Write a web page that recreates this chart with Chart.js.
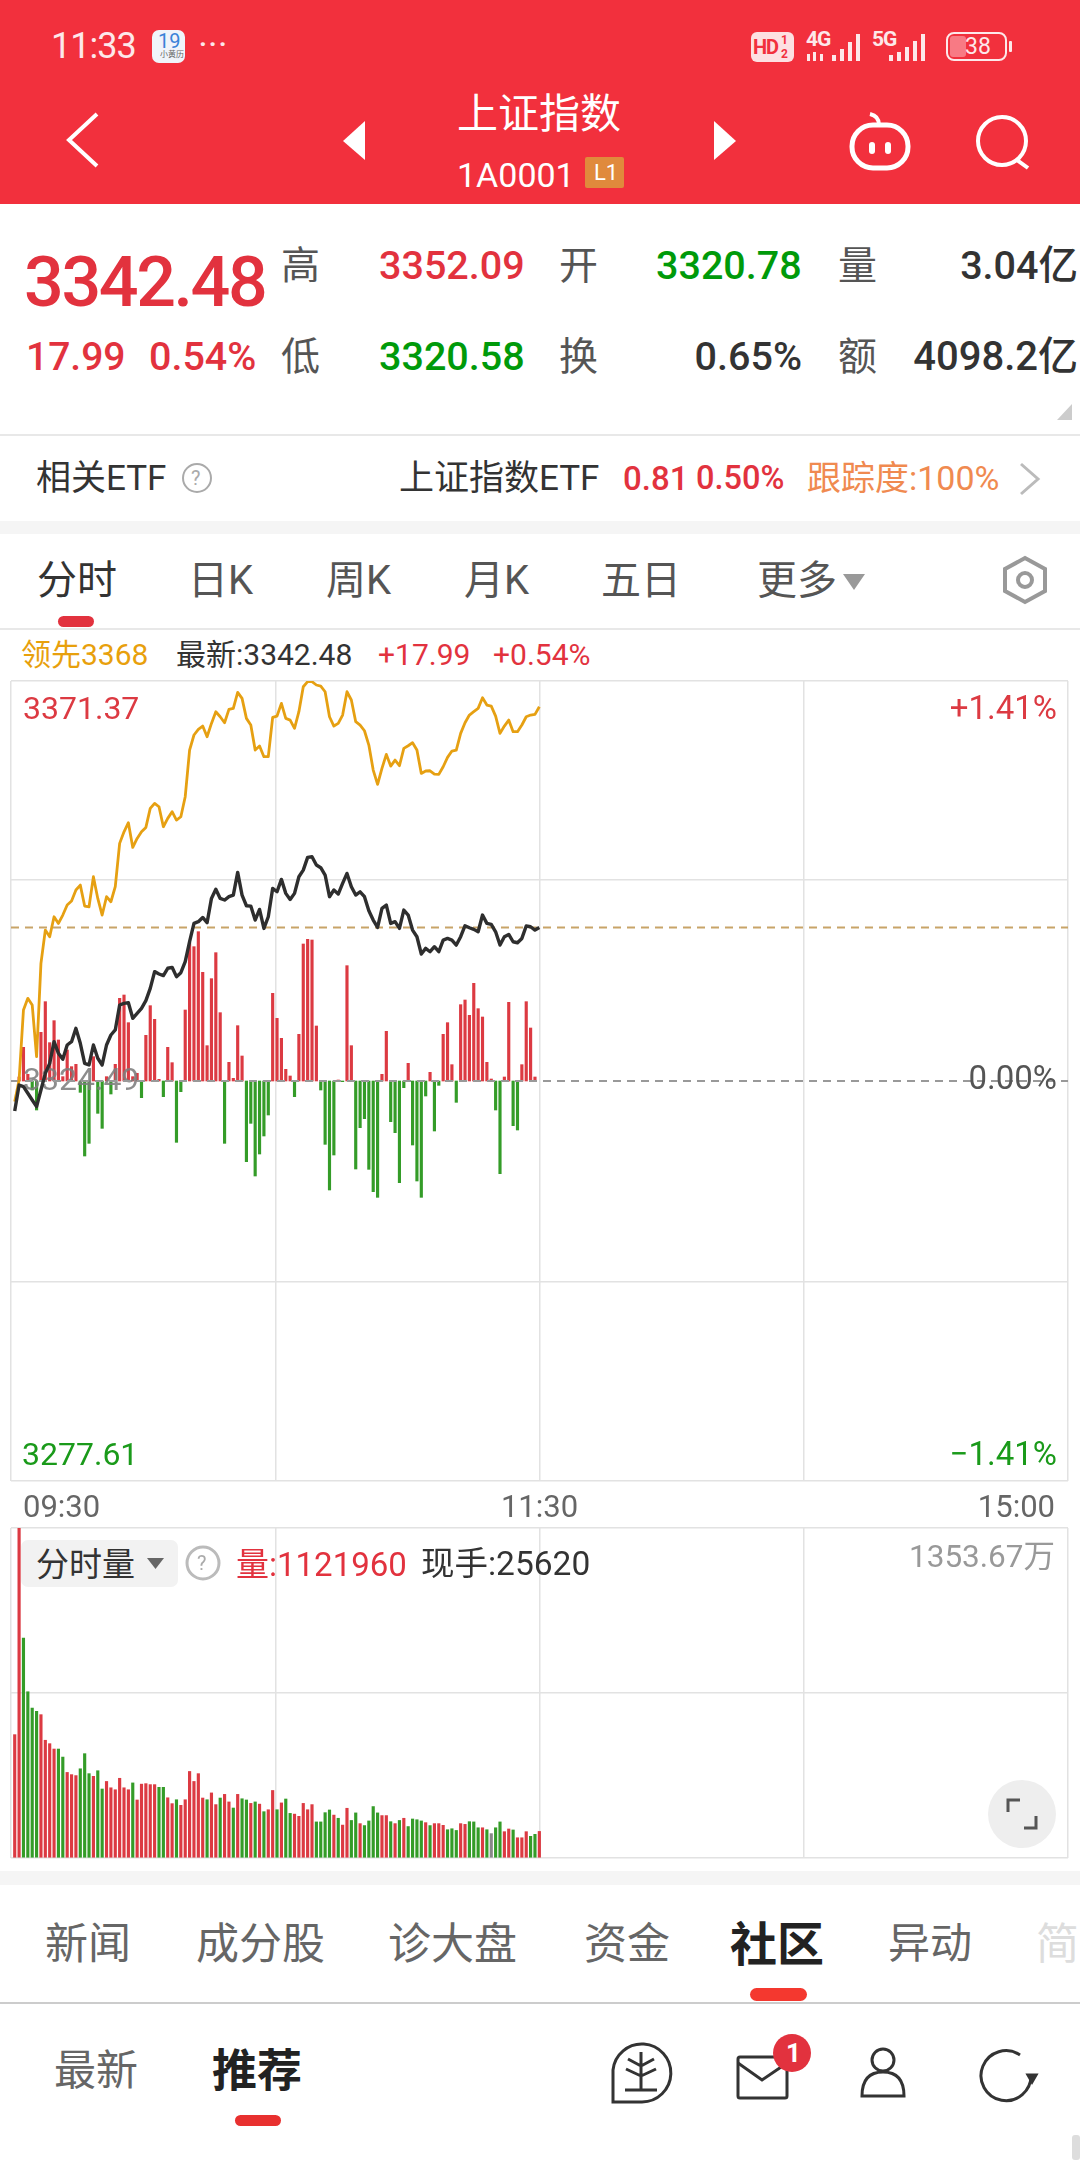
<!DOCTYPE html>
<html lang="zh-CN">
<head>
<meta charset="utf-8">
<title>上证指数</title>
<script src="https://cdn.jsdelivr.net/npm/chart.js@4/dist/chart.umd.min.js"></script>
<style>
  html, body { margin: 0; padding: 0; background: #fff; }
  #page { position: relative; width: 1080px; height: 2160px; overflow: hidden; background: #fff;
    font-family: Roboto, "Noto Sans CJK SC", sans-serif; }
  #page canvas { position: absolute; left: 0; }
  .t { position: absolute; white-space: nowrap; transform: translateY(-50%); line-height: 1; }
  .r { transform: translate(-100%, -50%); }
  .b { position: absolute; }
  svg { position: absolute; overflow: visible; }
  .red { color: #e2323e; } .grn { color: #009a0a; } .dk { color: #333; } .lab { color: #555; }
</style>
</head>
<body>
<div id="page">
  <div class="b" style="left:0;top:0;width:1080px;height:204px;background:#f2303d"></div>
  <div class="t" style="left:51px;top:46px;font-size:36px;letter-spacing:-1px;color:#fde8ea">11:33</div>
  <div class="b" style="left:152px;top:30px;width:33px;height:33px;background:#f0f4fa;border-radius:7px"></div>
  <div class="t" style="left:158px;top:41px;font-size:20px;color:#3b82d8">19</div>
  <div class="t" style="left:160px;top:55px;font-size:8px;color:#666">小黄历</div>
  <div class="t" style="left:199px;top:44px;font-size:26px;font-weight:700;color:#fde8ea;letter-spacing:2px">···</div>
  <div class="b" style="left:751px;top:32px;width:43px;height:30px;background:#fde0e2;border-radius:6px"></div>
  <div class="t" style="left:753px;top:47px;font-size:20px;font-weight:700;letter-spacing:-1px;color:#f2303d">HD</div>
  <div class="t" style="left:781px;top:40px;font-size:12px;font-weight:700;color:#f2303d">1</div>
  <div class="t" style="left:781px;top:54px;font-size:12px;font-weight:700;color:#f2303d">2</div>
  <div class="t" style="left:806px;top:39px;font-size:21px;font-weight:700;letter-spacing:-1px;color:#fde8ea">4G</div>
  <div class="t" style="left:872px;top:39px;font-size:21px;font-weight:700;letter-spacing:-1px;color:#fde8ea">5G</div>
  <svg style="left:0;top:0" width="1080" height="204" fill="#fde8ea">
    <rect x="807" y="54" width="3" height="7"/><rect x="813" y="52" width="3" height="9"/><rect x="820" y="54" width="3" height="7"/>
    <rect x="832" y="55" width="4" height="6"/><rect x="840" y="49" width="4" height="12"/><rect x="848" y="42" width="4" height="19"/><rect x="856" y="34" width="4" height="27"/>
    <rect x="889" y="55" width="4" height="6"/><rect x="897" y="52" width="4" height="9"/><rect x="905" y="47" width="4" height="14"/><rect x="913" y="41" width="4" height="20"/><rect x="921" y="34" width="4" height="27"/>
    <rect x="947" y="33" width="59" height="27" rx="7" fill="none" stroke="#fde8ea" stroke-width="2"/>
    <rect x="950" y="36" width="16" height="21" rx="3" fill="#f87a84"/>
    <rect x="1009" y="41" width="3" height="11" rx="1"/>
    <polyline points="97,114 69,140 97,166" fill="none" stroke="#fff" stroke-width="4"/>
    <polygon points="365,121 343,141 365,160" fill="#fff"/>
    <polygon points="714,121 736,141 714,160" fill="#fff"/>
    <rect x="852" y="125" width="56" height="43" rx="21" fill="none" stroke="#fff" stroke-width="5"/>
    <path d="M870 114 q9 2 9 11" fill="none" stroke="#fff" stroke-width="4"/>
    <rect x="869" y="142" width="6" height="12" rx="3" fill="#fff"/><rect x="885" y="142" width="6" height="12" rx="3" fill="#fff"/>
    <circle cx="1002" cy="141" r="24" fill="none" stroke="#fff" stroke-width="4"/>
    <line x1="1017" y1="160" x2="1028" y2="168" stroke="#fff" stroke-width="4"/>
  </svg>
  <div class="t" style="left:965px;top:46px;font-size:23px;color:#fde8ea">38</div>
  <div class="t" style="left:457px;top:114px;font-size:41px;color:#fff">上证指数</div>
  <div class="t" style="left:457px;top:175px;font-size:34px;color:#fff">1A0001</div>
  <div class="b" style="left:585px;top:157px;width:39px;height:31px;background:#e08a3c;border-radius:2px"></div>
  <div class="t" style="left:594px;top:173px;font-size:22px;color:#fff">L1</div>

  <div class="t red" style="left:24px;top:282px;font-size:70px;font-weight:500;letter-spacing:-2.4px">3342.48</div>
  <div class="t lab" style="left:281px;top:266px;font-size:39px">高</div>
  <div class="t red" style="left:379px;top:266px;font-size:39.5px;font-weight:500">3352.09</div>
  <div class="t lab" style="left:559px;top:266px;font-size:39px">开</div>
  <div class="t grn" style="left:656px;top:266px;font-size:39.5px;font-weight:500">3320.78</div>
  <div class="t lab" style="left:838px;top:266px;font-size:39px">量</div>
  <div class="t r dk" style="left:1078px;top:266px;font-size:39.5px;font-weight:500">3.04亿</div>
  <div class="t red" style="left:26px;top:357px;font-size:39px;font-weight:500">17.99</div>
  <div class="t red" style="left:149px;top:357px;font-size:39.5px;font-weight:500">0.54%</div>
  <div class="t lab" style="left:281px;top:357px;font-size:39px">低</div>
  <div class="t grn" style="left:379px;top:357px;font-size:39.5px;font-weight:500">3320.58</div>
  <div class="t lab" style="left:559px;top:357px;font-size:39px">换</div>
  <div class="t r dk" style="left:802px;top:357px;font-size:39.5px;font-weight:500">0.65%</div>
  <div class="t lab" style="left:838px;top:357px;font-size:39px">额</div>
  <div class="t r dk" style="left:1078px;top:357px;font-size:40px;font-weight:500">4098.2亿</div>
  <svg style="left:0;top:0" width="1080" height="640">
    <polygon points="1072,404 1072,420 1057,420" fill="#ccc"/>
    <circle cx="197" cy="478" r="14" fill="none" stroke="#aaa" stroke-width="2"/>
    <polyline points="1021,464 1038,479 1021,494" fill="none" stroke="#bbb" stroke-width="3"/>
    <polygon points="843,574 865,574 854,590" fill="#999"/>
    <polygon points="1025,558 1045,569 1045,591 1025,602 1005,591 1005,569" fill="none" stroke="#999" stroke-width="4"/>
    <circle cx="1025" cy="580" r="7" fill="none" stroke="#999" stroke-width="4"/>
  </svg>
  <div class="b" style="left:0;top:434px;width:1080px;height:2px;background:#e8e8e8"></div>
  <div class="t dk" style="left:36px;top:478px;font-size:35px">相关ETF</div>
  <div class="t" style="left:191px;top:478px;font-size:20px;color:#aaa">?</div>
  <div class="t dk" style="left:399px;top:478px;font-size:35px">上证指数ETF</div>
  <div class="t red" style="left:623px;top:478px;font-size:33px;font-weight:500">0.81</div>
  <div class="t red" style="left:696px;top:478px;font-size:32.5px;font-weight:500">0.50%</div>
  <div class="t" style="left:807px;top:478px;font-size:34px;color:#f08a50">跟踪度:100%</div>
  <div class="b" style="left:0;top:521px;width:1080px;height:13px;background:#f5f5f5"></div>
  <div class="t dk" style="left:37px;top:581px;font-size:40px">分时</div>
  <div class="t lab" style="left:188px;top:581px;font-size:40px">日K</div>
  <div class="t lab" style="left:326px;top:581px;font-size:40px">周K</div>
  <div class="t lab" style="left:464px;top:581px;font-size:40px">月K</div>
  <div class="t lab" style="left:601px;top:581px;font-size:40px">五日</div>
  <div class="t lab" style="left:757px;top:581px;font-size:40px">更多</div>
  <div class="b" style="left:58px;top:616px;width:36px;height:11px;border-radius:6px;background:#e2323e"></div>
  <div class="b" style="left:0;top:628px;width:1080px;height:2px;background:#e8e8e8"></div>
  <div class="t" style="left:21px;top:655px;font-size:30px;color:#e8a00c">领先3368</div>
  <div class="t dk" style="left:176px;top:655px;font-size:30px">最新:3342.48</div>
  <div class="t red" style="left:378px;top:655px;font-size:30px">+17.99</div>
  <div class="t red" style="left:493px;top:655px;font-size:30px">+0.54%</div>

  <canvas id="priceChart" width="1080" height="880" style="top:640px;width:1080px;height:880px"></canvas>
  <canvas id="volumeChart" width="1080" height="345" style="top:1520px;width:1080px;height:345px"></canvas>

  <div class="b" style="left:21px;top:1540px;width:157px;height:47px;border-radius:7px;background:#f2f2f2"></div>
  <div class="t dk" style="left:36px;top:1564px;font-size:33px">分时量</div>
  <svg style="left:0;top:1520px" width="1080" height="345">
    <polygon points="147,38 164,38 155.5,49" fill="#666"/>
    <circle cx="203" cy="43" r="16" fill="none" stroke="#bbb" stroke-width="3"/>
    <circle cx="1022" cy="294" r="34" fill="#eee"/>
    <polyline points="1008,292 1008,280 1020,280" fill="none" stroke="#555" stroke-width="3"/>
    <polyline points="1024,308 1036,308 1036,296" fill="none" stroke="#555" stroke-width="3"/>
  </svg>
  <div class="t" style="left:197px;top:1563px;font-size:20px;color:#aaa">?</div>
  <div class="t red" style="left:236px;top:1564px;font-size:33px">量:1121960</div>
  <div class="t dk" style="left:421px;top:1564px;font-size:33.5px">现手:25620</div>
  <div class="t r" style="left:1055px;top:1557px;font-size:31.5px;color:#999">1353.67万</div>

  <div class="b" style="left:0;top:1871px;width:1080px;height:14px;background:#f5f5f5"></div>
  <div class="t" style="left:45px;top:1944px;font-size:43px;color:#666">新闻</div>
  <div class="t" style="left:196px;top:1944px;font-size:43px;color:#666">成分股</div>
  <div class="t" style="left:388px;top:1944px;font-size:43px;color:#666">诊大盘</div>
  <div class="t" style="left:584px;top:1944px;font-size:43px;color:#666">资金</div>
  <div class="t" style="left:730px;top:1944px;font-size:47px;font-weight:700;color:#222">社区</div>
  <div class="t" style="left:888px;top:1944px;font-size:42px;color:#666">异动</div>
  <div class="t" style="left:1036px;top:1944px;font-size:43px;color:#ddd">简</div>
  <div class="b" style="left:750px;top:1988px;width:57px;height:13px;border-radius:7px;background:#f4382f"></div>
  <div class="b" style="left:0;top:2002px;width:1080px;height:2px;background:#ccc"></div>
  <div class="t" style="left:54px;top:2071px;font-size:42px;color:#666">最新</div>
  <div class="t" style="left:212px;top:2071px;font-size:45px;font-weight:700;color:#222">推荐</div>
  <div class="b" style="left:235px;top:2115px;width:46px;height:11px;border-radius:6px;background:#e8302f"></div>
  <svg style="left:0;top:2030px" width="1080" height="130" fill="none" stroke="#333" stroke-width="3">
    <path d="M613 72 V40 a29 29 0 1 1 29 32 Z"/>
    <path d="M641 22 V60 M625 60 H657 M641 36 L628 29 M641 36 L654 29 M641 46 L626 39 M641 46 L656 39"/>
    <rect x="738" y="27" width="49" height="41" rx="2"/>
    <polyline points="738,33 762,50 787,33"/>
    <circle cx="883" cy="30" r="11"/>
    <path d="M862 66 q0 -24 21 -24 q21 0 21 24 Z"/>
    <path d="M1031 45 a25 25 0 1 1 -11 -20"/>
    <polygon points="1028,45 1036,45 1032,52" fill="#333"/>
    <rect x="1072" y="105" width="8" height="25" rx="3" fill="#ddd" stroke="none"/>
    <circle cx="792" cy="23" r="19" fill="#e2323e" stroke="none"/>
  </svg>
  <div class="t" style="left:786px;top:2053px;font-size:26px;font-weight:700;color:#fff">1</div>
</div>

<script>
const prevClose = 3324.49;
const lastPrice = 3342.48;
const axisTop = 3371.37;
const axisBottom = 3277.61;
const axisLines = [3277.61, 3300.93, 3348.05, 3371.37];
const timeLabels = ['09:30', '11:30', '15:00'];
const volumeMax = 1353.67;

// 上证指数 分时, one point per minute from 09:30
const indexLine = [
  3320.98, 3324.02, 3323.83, 3323.05, 3322.26, 3321.48, 3323.44, 3325.39, 3326.56, 3329.10,
  3327.73, 3327.03, 3328.71, 3329.10, 3330.66, 3328.91, 3326.56, 3326.37, 3328.71, 3327.15,
  3326.37, 3328.71, 3329.88, 3330.47, 3333.40, 3333.59, 3333.67, 3331.84, 3332.42, 3333.01,
  3333.91, 3335.35, 3337.31, 3337.03, 3336.84, 3337.70, 3337.81, 3336.72, 3337.19, 3338.48,
  3340.82, 3342.96, 3343.16, 3343.66, 3343.04, 3345.89, 3346.95, 3345.89, 3345.70, 3346.09,
  3346.28, 3348.94, 3346.28, 3345.03, 3344.99, 3343.35, 3344.60, 3342.37, 3343.74, 3347.06,
  3346.67, 3348.12, 3346.48, 3345.77, 3346.48, 3348.43, 3349.21, 3350.70, 3350.77, 3349.80,
  3349.49, 3348.63, 3346.09, 3346.87, 3346.40, 3347.65, 3348.82, 3347.26, 3346.28, 3346.67,
  3346.09, 3344.45, 3343.35, 3342.49, 3344.72, 3345.11, 3342.96, 3343.16, 3342.37, 3344.52,
  3343.94, 3342.18, 3341.40, 3339.37, 3340.03, 3339.64, 3340.23, 3339.64, 3341.01, 3341.20,
  3341.01, 3340.42, 3341.40, 3342.69, 3342.45, 3342.26, 3341.98, 3343.94, 3342.96, 3342.84,
  3341.98, 3340.42, 3341.40, 3341.67, 3340.81, 3340.69, 3341.20, 3342.65, 3342.57, 3342.18,
  3342.48
];

// 领先 line
const leadLine = [
  3322.07, 3324.61, 3332.81, 3334.18, 3333.40, 3327.34, 3338.28, 3342.18, 3341.40, 3343.74,
  3342.96, 3343.94, 3345.11, 3345.58, 3346.87, 3347.45, 3344.99, 3344.91, 3348.43, 3345.89,
  3343.94, 3346.09, 3345.50, 3347.26, 3352.34, 3353.70, 3354.76, 3351.87, 3352.92, 3353.70,
  3354.21, 3356.44, 3357.03, 3356.63, 3354.29, 3355.27, 3356.05, 3355.07, 3355.46, 3357.81,
  3363.28, 3365.04, 3365.70, 3366.09, 3364.84, 3366.40, 3367.77, 3367.18, 3366.48, 3368.04,
  3368.16, 3370.04, 3369.33, 3366.99, 3366.21, 3363.28, 3363.75, 3362.50, 3362.50, 3367.11,
  3367.26, 3368.75, 3366.99, 3366.79, 3365.82, 3367.77, 3370.70, 3371.29, 3371.29, 3370.90,
  3370.78, 3370.11, 3367.18, 3366.09, 3366.40, 3367.38, 3370.11, 3369.14, 3366.60, 3366.21,
  3365.54, 3363.86, 3360.93, 3359.25, 3361.13, 3362.77, 3361.40, 3362.10, 3361.44, 3363.47,
  3363.78, 3364.14, 3363.28, 3360.54, 3360.82, 3360.85, 3360.46, 3360.42, 3361.32, 3362.42,
  3363.16, 3363.28, 3365.23, 3366.48, 3367.38, 3367.77, 3368.16, 3369.41, 3368.55, 3368.43,
  3367.26, 3365.23, 3366.09, 3366.79, 3365.43, 3365.43, 3366.21, 3367.18, 3367.38, 3367.46,
  3368.36
];

const flowBars = [
  0, 12, 101, 20, -27, -87, 146, 238, 115, 181,
  123, 13, 93, 43, 50, -34, -225, -187, 73, -97,
  -142, 13, -39, 50, 248, 258, 175, 13, 23, -50,
  137, 226, 185, 5, -47, 101, 55, -184, -32, 213,
  415, 403, 448, 326, 106, 307, 385, 205, -187, 56,
  8, 166, 75, -242, -127, -285, -219, -165, -102, 263,
  188, 128, 35, 15, -47, 140, 411, 425, 423, 165,
  -27, -190, -327, -222, 3, -2, 346, 106, -264, -140,
  -113, -265, -332, -349, 20, 149, -122, -155, -305, -20,
  53, -192, -300, -349, -45, 26, -150, -13, 140, 175,
  49, -64, 229, 243, 197, 293, 217, 192, 56, 6,
  -87, -278, 12, 236, -134, -147, 49, 238, 159, 12
];
const flowRange = 1200;

// 分时量, in 万
const volumeBars = [
  506, 1353.67, 902, 682, 615, 602, 588, 483, 469, 447,
  447, 414, 351, 342, 338, 366, 428, 346, 335, 358,
  283, 314, 288, 280, 327, 288, 280, 308, 238, 303,
  305, 301, 301, 290, 290, 247, 223, 239, 216, 239,
  355, 314, 346, 246, 239, 267, 219, 246, 261, 230,
  205, 261, 243, 238, 224, 230, 221, 190, 198, 277,
  198, 226, 242, 183, 180, 171, 224, 198, 219, 148,
  148, 186, 197, 176, 163, 135, 204, 154, 185, 141,
  133, 152, 211, 185, 174, 174, 149, 141, 154, 163,
  129, 160, 157, 152, 145, 133, 141, 141, 134, 116,
  120, 113, 141, 138, 149, 148, 124, 124, 116, 100,
  124, 148, 108, 119, 115, 83, 83, 108, 89, 97,
  109
];
const volumeDirs = [
  'r','r','g','g','g','g','r','r','r','r',
  'g','g','r','r','r','g','g','g','r','g',
  'g','r','r','r','r','r','r','g','r','r',
  'r','r','r','g','g','r','r','g','r','r',
  'r','r','r','r','g','r','r','g','r','r',
  'g','r','g','g','r','g','r','g','r','r',
  'g','r','g','g','r','r','r','r','r','g',
  'g','g','g','r','g','r','r','g','g','r',
  'g','g','g','g','r','r','g','r','g','r',
  'g','g','g','g','r','g','r','r','r','g',
  'g','g','r','r','g','g','g','r','g','n',
  'g','g','r','r','g','r','r','r','g','g',
  'r'
];

const RED = '#dc3a42';
const GREEN = '#349c28';
const GRID = '#e2e2e2';
const FONT = 'Roboto, "Noto Sans CJK SC", sans-serif';
const xRange = { min: -0.85, max: 240.92 };
const dirColors = { r: RED, g: GREEN, n: '#888' };

function toPoints(values) {
  return values.map((y, x) => ({ x, y }));
}

function flat(y) {
  return [{ x: xRange.min, y }, { x: xRange.max, y }];
}

const sharedScales = {
  x: { type: 'linear', min: xRange.min, max: xRange.max, offset: false, display: false },
  // the frame is split in four equal sessions, 09:30 to 15:00
  gridX: {
    type: 'linear', axis: 'x', position: 'bottom', min: 0, max: 4, offset: false,
    ticks: { display: false, stepSize: 1 },
    grid: { color: GRID, lineWidth: 1.5, drawTicks: false, offset: false },
    border: { display: false },
    afterFit(s) { s.height = 0; }
  }
};

function text(ctx, str, x, y, color, align, size) {
  ctx.save();
  ctx.font = `${size}px ${FONT}`;
  ctx.fillStyle = color;
  ctx.textAlign = align;
  ctx.textBaseline = 'middle';
  ctx.fillText(str, x, y);
  ctx.restore();
}

// 3324.49 sits above the bars but under the lines
const prevCloseLabel = {
  id: 'prevCloseLabel',
  afterDatasetDraw(chart, args) {
    if (args.meta.type !== 'bar') return;
    const y = chart.scales.y.getPixelForValue(prevClose);
    text(chart.ctx, prevClose.toFixed(2), chart.chartArea.left + 12, y + 1, 'rgba(125,125,125,0.88)', 'left', 32);
  }
};

const axisLabels = {
  id: 'axisLabels',
  afterDraw(chart) {
    const { ctx, chartArea: a, scales } = chart;
    const y = scales.y;
    const gx = scales.gridX;
    text(ctx, axisTop.toFixed(2), a.left + 12, y.getPixelForValue(axisTop) + 30, RED, 'left', 32);
    text(ctx, axisBottom.toFixed(2), a.left + 11, y.getPixelForValue(axisBottom) - 24, '#1a9a1a', 'left', 32);
    text(ctx, '+1.41%', a.right - 11, y.getPixelForValue(axisTop) + 30, RED, 'right', 33);
    text(ctx, '−1.41%', a.right - 11, y.getPixelForValue(axisBottom) - 24, '#1a9a1a', 'right', 33);
    text(ctx, '0.00%', a.right - 11, y.getPixelForValue(prevClose), '#555', 'right', 33);
    const ty = a.bottom + 28;
    text(ctx, timeLabels[0], gx.getPixelForValue(0) + 12, ty, '#666', 'left', 31);
    text(ctx, timeLabels[1], gx.getPixelForValue(2), ty, '#666', 'center', 31);
    text(ctx, timeLabels[2], gx.getPixelForValue(4) - 13, ty, '#666', 'right', 31);
  }
};

new Chart(document.getElementById('priceChart'), {
  type: 'bar',
  data: {
    datasets: [
      {
        type: 'line', label: '上证指数', data: toPoints(indexLine), order: 1,
        borderColor: '#2e2e2e', borderWidth: 3.4, pointRadius: 0, tension: 0, borderJoinStyle: 'round', yAxisID: 'y'
      },
      {
        type: 'line', label: '领先', data: toPoints(leadLine), order: 2,
        borderColor: '#e6a012', borderWidth: 2.8, pointRadius: 0, tension: 0, borderJoinStyle: 'round', yAxisID: 'y'
      },
      {
        type: 'line', label: '最新', data: flat(lastPrice), order: 3,
        borderColor: '#c8a468', borderWidth: 1.8, borderDash: [8, 6], pointRadius: 0, yAxisID: 'y'
      },
      {
        type: 'line', label: '昨收', data: flat(prevClose), order: 4,
        borderColor: '#999', borderWidth: 1.8, borderDash: [8, 6], pointRadius: 0, yAxisID: 'y'
      },
      {
        type: 'bar', label: '强弱', data: toPoints(flowBars), order: 5, yAxisID: 'flow',
        barThickness: 2.5,
        backgroundColor: ctx => (ctx.raw && ctx.raw.y < 0 ? GREEN : RED)
      }
    ]
  },
  options: {
    responsive: false,
    animation: false,
    events: [],
    layout: { padding: { top: 41, left: 11, right: 12, bottom: 39 } },
    plugins: { legend: { display: false }, tooltip: { enabled: false } },
    scales: {
      ...sharedScales,
      y: {
        type: 'linear', min: axisBottom, max: axisTop,
        afterBuildTicks(s) { s.ticks = axisLines.map(value => ({ value })); },
        ticks: { display: false },
        grid: { color: GRID, lineWidth: 1.5, drawTicks: false },
        border: { display: false },
        afterFit(s) { s.width = 0; }
      },
      flow: { type: 'linear', min: -flowRange, max: flowRange, display: false }
    }
  },
  plugins: [prevCloseLabel, axisLabels]
});

new Chart(document.getElementById('volumeChart'), {
  type: 'bar',
  data: {
    datasets: [{
      label: '分时量',
      data: toPoints(volumeBars),
      barThickness: 2.5,
      backgroundColor: volumeDirs.map(d => dirColors[d])
    }]
  },
  options: {
    responsive: false,
    animation: false,
    events: [],
    layout: { padding: { top: 8, left: 11, right: 12, bottom: 7 } },
    plugins: { legend: { display: false }, tooltip: { enabled: false } },
    scales: {
      ...sharedScales,
      y: {
        type: 'linear', min: 0, max: volumeMax,
        afterBuildTicks(s) { s.ticks = [0, volumeMax / 2, volumeMax].map(value => ({ value })); },
        ticks: { display: false },
        grid: { color: GRID, lineWidth: 1.5, drawTicks: false },
        border: { display: false },
        afterFit(s) { s.width = 0; }
      }
    }
  }
});
</script>
</body>
</html>
